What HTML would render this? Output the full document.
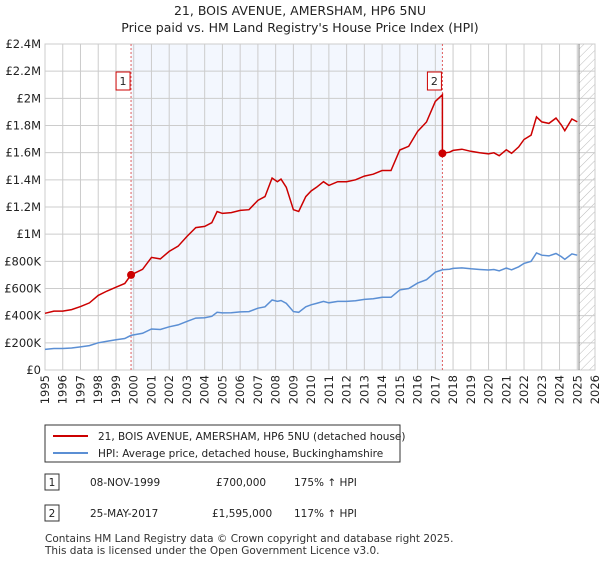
<!DOCTYPE html>
<html><head><meta charset="utf-8"><style>
body{margin:0;background:#fff;font-family:"DejaVu Sans","Liberation Sans",sans-serif;}
svg text{font-family:"DejaVu Sans","Liberation Sans",sans-serif;}
</style></head><body>
<svg id="c" width="600" height="560" viewBox="0 0 600 560" xmlns="http://www.w3.org/2000/svg">
<defs><pattern id="h" width="6" height="6" patternUnits="userSpaceOnUse" patternTransform="rotate(45)"><line x1="0" y1="0" x2="0" y2="6" stroke="#bbb" stroke-width="1"/></pattern></defs>
<text x="300" y="15" text-anchor="middle" font-size="12.5" fill="#222">21, BOIS AVENUE, AMERSHAM, HP6 5NU</text>
<text x="300" y="32" text-anchor="middle" font-size="12.5" fill="#222">Price paid vs. HM Land Registry's House Price Index (HPI)</text>
<g id="plot"></g>
<g>
<rect x="45" y="425" width="355" height="37" fill="#fff" stroke="#333" stroke-width="1"/>
<line x1="53" y1="436" x2="88" y2="436" stroke="#cc0000" stroke-width="2"/>
<text x="98" y="440" font-size="10.5" fill="#222">21, BOIS AVENUE, AMERSHAM, HP6 5NU (detached house)</text>
<line x1="53" y1="453" x2="88" y2="453" stroke="#5b8fd4" stroke-width="2"/>
<text x="98" y="457" font-size="10.5" fill="#222">HPI: Average price, detached house, Buckinghamshire</text>
</g>
<g font-size="10.5" fill="#222">
<rect x="45" y="474" width="14" height="16" fill="#fff" stroke="#333"/><text x="52" y="486" text-anchor="middle">1</text>
<text x="90" y="486">08-NOV-1999</text><text x="216" y="486">£700,000</text><text x="294" y="486">175% ↑ HPI</text>
<rect x="45" y="505" width="14" height="16" fill="#fff" stroke="#333"/><text x="52" y="517" text-anchor="middle">2</text>
<text x="90" y="517">25-MAY-2017</text><text x="212" y="517">£1,595,000</text><text x="294" y="517">117% ↑ HPI</text>
</g>
<text x="45" y="542" font-size="10.5" fill="#333">Contains HM Land Registry data © Crown copyright and database right 2025.</text>
<text x="45" y="554" font-size="10.5" fill="#333">This data is licensed under the Open Government Licence v3.0.</text>
</svg>
<script>
const hpiYears=[1995,1995.5,1996,1996.5,1997,1997.5,1998,1998.5,1999,1999.5,1999.85,2000.5,2001,2001.5,2002,2002.5,2003,2003.5,2004,2004.4,2004.7,2005,2005.5,2006,2006.5,2007,2007.4,2007.8,2008.1,2008.3,2008.6,2009,2009.3,2009.7,2010,2010.3,2010.7,2011,2011.5,2012,2012.5,2013,2013.5,2014,2014.5,2015,2015.5,2016,2016.5,2017,2017.4,2017.8,2018,2018.5,2019,2019.5,2020,2020.3,2020.6,2021,2021.3,2021.7,2022,2022.4,2022.7,2023,2023.4,2023.8,2024.1,2024.3,2024.7,2025];
const hpiValues=[152,158,158,162,170,180,200,212,222,232,255,270,302,298,318,332,358,382,385,395,425,420,422,428,430,455,465,515,505,512,490,430,425,465,480,490,505,495,505,505,510,520,525,535,535,590,600,640,665,720,738,742,748,752,745,740,736,740,730,750,738,760,785,800,862,845,840,858,835,815,855,845];
const saleYears=[1999.85,2017.4];
const salePrices=[700,1595];
const saleLabels=["1","2"];
const yTicks=[0,200,400,600,800,1000,1200,1400,1600,1800,2000,2200,2400];
const yTickLabels=["£0","£200K","£400K","£600K","£800K","£1M","£1.2M","£1.4M","£1.6M","£1.8M","£2M","£2.2M","£2.4M"];
const xTicks=[1995,1996,1997,1998,1999,2000,2001,2002,2003,2004,2005,2006,2007,2008,2009,2010,2011,2012,2013,2014,2015,2016,2017,2018,2019,2020,2021,2022,2023,2024,2025,2026];

const L=45,R=595,T=44,B=370,x0=1995,x1=2026,yMax=2400,dataEnd=2025.1;
const X=v=>L+(v-x0)/(x1-x0)*(R-L);
const Y=v=>B-v/yMax*(B-T);
const NS="http://www.w3.org/2000/svg";
const g=document.getElementById('plot');
function mk(t,a){const e=document.createElementNS(NS,t);for(const k in a)e.setAttribute(k,a[k]);g.appendChild(e);return e;}
let e;
e=mk('rect',{x:X(saleYears[0]),y:T,width:X(saleYears[1])-X(saleYears[0]),height:B-T,fill:'#eef3fd',opacity:0.7});


e=mk('rect',{x:X(dataEnd),y:T,width:R-X(dataEnd),height:B-T,fill:'url(#h)'});


yTicks.forEach((v,i)=>{
 e=mk('line',{x1:L,x2:R,y1:Y(v),y2:Y(v),stroke:'#ccc','stroke-width':1});
 
 
 e=mk('text',{x:L-4,y:Y(v)+4,'text-anchor':'end','font-size':'11.5',fill:'#222'});e.textContent=yTickLabels[i];
 
 
});
xTicks.forEach(v=>{
 e=mk('line',{x1:X(v),x2:X(v),y1:T,y2:B,stroke:'#ccc','stroke-width':1});
 
 
 e=mk('text',{x:0,y:0,'text-anchor':'end','font-size':'11.5',fill:'#222',transform:`translate(${X(v)+4},${B+5}) rotate(-90)`});e.textContent=v;
 
 
});
e=mk('rect',{x:L,y:T,width:R-L,height:B-T,fill:'none',stroke:'#ccc'});


e=mk('line',{x1:X(dataEnd),x2:X(dataEnd),y1:T,y2:B,stroke:'#888','stroke-width':1});


function hpiAt(t){for(let i=1;i<hpiYears.length;i++){if(t<=hpiYears[i]){const a=hpiYears[i-1],b=hpiYears[i];return hpiValues[i-1]+(hpiValues[i]-hpiValues[i-1])*(t-a)/(b-a);}}return hpiValues[hpiValues.length-1];}
let pts=[];
const times=[...hpiYears];saleYears.forEach(s=>{times.push(s-0.001);times.push(s);});times.sort((a,b)=>a-b);
times.forEach(t=>{let k=0;for(let j=0;j<saleYears.length;j++)if(t>=saleYears[j])k=j;const v=hpiAt(t)*salePrices[k]/hpiAt(saleYears[k]);pts.push(X(t).toFixed(1)+','+Y(v).toFixed(1));});
saleYears.forEach((s,i)=>{
 e=mk('line',{x1:X(s),x2:X(s),y1:T,y2:B,stroke:'#e06060','stroke-width':1,'stroke-dasharray':'2,2'});
 
 
});
e=mk('polyline',{points:hpiYears.map((t,i)=>X(t).toFixed(1)+','+Y(hpiValues[i]).toFixed(1)).join(' '),fill:'none',stroke:'#5b8fd4','stroke-width':1.5});


e=mk('polyline',{points:pts.join(' '),fill:'none',stroke:'#cc0000','stroke-width':1.5});


saleYears.forEach((s,i)=>{
 e=mk('circle',{cx:X(s),cy:Y(salePrices[i]),r:4,fill:'#cc0000'});
 
 
 e=mk('rect',{x:X(s)-15,y:72,width:14,height:18,fill:'#fff',stroke:'#cc0000'});
 
 
 e=mk('text',{x:X(s)-8,y:85,'text-anchor':'middle','font-size':'11',fill:'#222'});e.textContent=saleLabels[i];
 
 
});
</script>
</body></html>
